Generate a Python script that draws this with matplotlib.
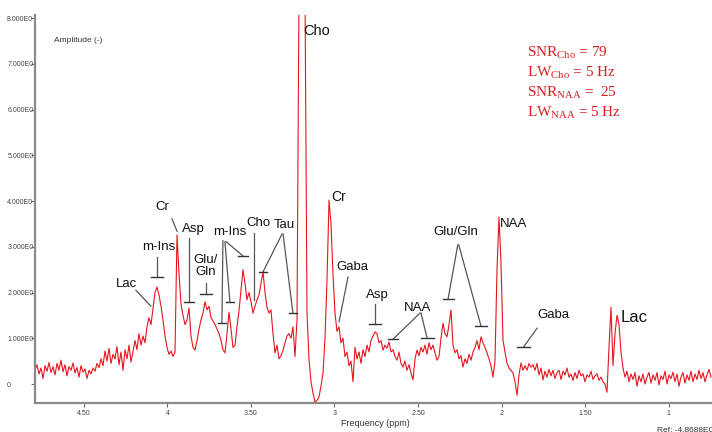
import numpy as np
import matplotlib
matplotlib.use('Agg')
import matplotlib.pyplot as plt

plt.rcParams['font.family'] = ['Liberation Sans', 'DejaVu Sans']
plt.rcParams['mathtext.fontset'] = 'custom'
plt.rcParams['mathtext.rm'] = 'Liberation Serif'
plt.rcParams['mathtext.it'] = 'Liberation Serif:italic'

amplitude = [
    0.30, 0.42, 0.22, 0.35, 0.12, 0.40, 0.28, 0.47, 0.25, 0.38,
    0.20, 0.45, 0.30, 0.52, 0.27, 0.42, 0.18, 0.38, 0.30, 0.46,
    0.24, 0.36, 0.15, 0.40, 0.26, 0.33, 0.12, 0.30, 0.22, 0.35,
    0.28, 0.45, 0.36, 0.55, 0.40, 0.72, 0.50, 0.78, 0.45, 0.65,
    0.55, 0.82, 0.42, 0.70, 0.30, 0.75, 0.55, 0.85, 0.48, 0.72,
    0.95, 0.75, 1.10, 0.85, 1.05, 0.90, 1.25, 1.45, 1.30, 1.65,
    2.00, 2.12, 1.95, 1.70, 1.40, 1.05, 0.80, 0.65, 0.72, 0.60,
    0.70, 3.26, 2.40, 1.75, 1.50, 1.30, 1.40, 1.66, 1.05, 0.80,
    0.74, 0.95, 1.20, 1.40, 1.55, 1.80, 1.62, 1.70, 1.45, 1.38,
    1.30, 1.20, 1.10, 0.95, 0.75, 0.68, 1.10, 1.57, 1.20, 0.80,
    0.85, 1.25, 1.60, 2.05, 2.50, 2.20, 1.84, 2.00, 1.80, 1.55,
    1.70, 1.84, 1.95, 2.20, 2.45, 2.00, 1.68, 1.55, 1.62, 1.10,
    0.68, 0.85, 0.55, 0.62, 0.74, 0.90, 1.05, 1.10, 1.00, 1.25,
    0.60, 1.40, 8.60, 9.50, 9.50, 8.60, 1.55, 0.55, 0.05, -0.20,
    -0.39, -0.36, -0.28, -0.05, 0.24, 1.00, 2.27, 4.02, 3.50, 2.40,
    1.55, 1.15, 1.25, 0.90, 1.00, 0.60, 0.70, 0.40, 0.50, 0.05,
    0.80, 0.55, 0.70, 0.45, 0.75, 0.60, 0.85, 0.70, 0.95, 1.05,
    1.14, 1.10, 0.90, 0.95, 0.74, 0.85, 0.78, 0.92, 0.70, 0.75,
    0.60, 0.52, 0.70, 0.45, 0.37, 0.50, 0.30, 0.42, 0.24, 0.09,
    0.55, 0.74, 0.62, 0.80, 0.70, 0.85, 0.65, 0.90, 0.75, 0.85,
    0.68, 0.52, 0.60, 1.00, 1.33, 1.10, 1.03, 1.30, 1.62, 0.85,
    0.68, 0.75, 0.55, 0.62, 0.37, 0.55, 0.45, 0.65, 0.52, 0.70,
    0.80, 0.95, 0.75, 1.03, 0.90, 0.80, 0.68, 0.55, 0.40, 0.15,
    0.50, 2.50, 3.65, 2.64, 0.96, 0.70, 0.46, 0.35, 0.30, 0.24,
    0.05, -0.25, 0.20, 0.46, 0.30, 0.40, 0.30, 0.45, 0.37, 0.42,
    0.30, 0.45, 0.20, 0.35, 0.09, 0.28, 0.15, 0.32, 0.18, 0.30,
    0.12, 0.25, 0.30, 0.10, 0.28, 0.20, 0.35, 0.15, 0.22, 0.08,
    0.25, 0.12, 0.30, 0.18, 0.22, 0.05, 0.20, 0.15, 0.28, 0.10,
    0.18, 0.22, 0.08, 0.15, 0.05, 0.00, -0.18, 0.80, 1.68, 0.40,
    1.10, 1.50, 1.30, 0.70, 0.35, 0.15, 0.28, 0.05, 0.22, 0.10,
    0.25, -0.05, 0.18, 0.05, 0.22, 0.00, 0.15, 0.25, 0.02, 0.20,
    0.08, 0.25, -0.02, 0.18, 0.10, 0.28, 0.00, 0.20, 0.12, 0.26,
    0.05, 0.22, -0.05, 0.15, 0.25, 0.02, 0.20, 0.08, 0.28, 0.05,
    0.22, 0.10, 0.30, 0.12, 0.25, 0.05, 0.20, 0.32, 0.15,
]
ppm_first, ppm_last = 4.793, 0.746
ppm = np.linspace(ppm_first, ppm_last, len(amplitude))

x_ticks = [4.5, 4, 3.5, 3, 2.5, 2, 1.5, 1]
x_ticklabels = ['4.50', '4', '3.50', '3', '2.50', '2', '1.50', '1']
y_ticks = [0, 1, 2, 3, 4, 5, 6, 7, 8]
y_ticklabels = ['0'] + ['%d.000E0' % v for v in y_ticks[1:]]

# metabolite labels: text, ppm, amplitude, font size
labels = [
    ('Lac', 4.243, 2.19, 9.5),
    ('m-Ins', 4.051, 2.99, 9.5),
    ('Cr', 4.033, 3.87, 9.5),
    ('Asp', 3.847, 3.39, 9.5),
    ('Glu/\nGln', 3.772, 2.58, 9.5),
    ('m-Ins', 3.626, 3.32, 9.5),
    ('Cho', 3.458, 3.52, 9.5),
    ('Tau', 3.302, 3.48, 9.5),
    ('Cho', 3.105, 7.72, 10.5),
    ('Cr', 2.973, 4.09, 10),
    ('Gaba', 2.895, 2.56, 9.5),
    ('Asp', 2.746, 1.95, 9.5),
    ('NAA', 2.500, 1.66, 9.5),
    ('Glu/Gln', 2.272, 3.32, 9.5),
    ('NAA', 1.925, 3.50, 9.5),
    ('Gaba', 1.692, 1.51, 9.5),
    ('Lac', 1.207, 1.46, 12),
]

# leader lines: start, end, half width of end bar (None = no bar)
leaders = [
    (4.189, 2.05, 4.099, 1.70, None),
    (4.063, 2.78, 4.063, 2.34, 0.036),
    (3.973, 3.61, 3.943, 3.34, None),
    (3.871, 3.19, 3.871, 1.79, 0.027),
    (3.769, 2.21, 3.769, 1.97, 0.036),
    (3.668, 3.13, 3.674, 1.33, 0.024),
    (3.656, 3.11, 3.626, 1.79, 0.024),
    (3.648, 3.11, 3.548, 2.80, 0.030),
    (3.482, 3.30, 3.482, 1.84, None),
    (3.314, 3.28, 3.428, 2.45, 0.024),
    (3.308, 3.28, 3.249, 1.55, 0.024),
    (2.919, 2.34, 2.973, 1.36, None),
    (2.757, 1.75, 2.757, 1.31, 0.036),
    (2.488, 1.55, 2.650, 0.98, 0.030),
    (2.482, 1.55, 2.446, 1.01, 0.039),
    (2.262, 3.04, 2.320, 1.86, 0.033),
    (2.256, 3.04, 2.123, 1.27, 0.036),
    (1.787, 1.22, 1.868, 0.81, 0.039),
]

quality = [
    r'$\mathrm{SNR}_{\mathrm{Cho}}$ = 79',
    r'$\mathrm{LW}_{\mathrm{Cho}}$ = 5 Hz',
    r'$\mathrm{SNR}_{\mathrm{NAA}}$ =  25',
    r'$\mathrm{LW}_{\mathrm{NAA}}$ = 5 Hz',
]

W, H = 712, 432
fig = plt.figure(figsize=(W / 100, H / 100), dpi=100)
ax = fig.add_axes([35 / W, 29 / H, 677 / W, 388 / H])

ax.plot(ppm, amplitude, color='#e8141e', lw=0.8)
ax.set_xlim(4.793, 0.740)
ax.set_ylim(-0.415, 8.066)

for s in ['top', 'right']:
    ax.spines[s].set_visible(False)
for s in ['left', 'bottom']:
    ax.spines[s].set_color('#8a8a8a')
    ax.spines[s].set_linewidth(1.6)

ax.set_xticks(x_ticks)
ax.set_xticklabels(x_ticklabels)
ax.set_yticks(y_ticks)
ax.set_yticklabels(y_ticklabels)
ax.tick_params(axis='x', length=3, width=0.8, color='#666666', labelsize=5, labelcolor='#444444', pad=2)
ax.tick_params(axis='y', length=3, width=0.8, color='#666666', labelsize=5, labelcolor='#444444', pad=17)
for t in ax.get_yticklabels():
    t.set_horizontalalignment('left')

for txt, x, y, fs in labels:
    ax.text(x, y, txt, ha='center', va='center', fontsize=fs, color='#111111', linespacing=1.1)

for x0, y0, x1, y1, hw in leaders:
    ax.plot([x0, x1], [y0, y1], color='#555555', lw=0.9)
    if hw:
        ax.plot([x1 + hw, x1 - hw], [y1, y1], color='#333333', lw=1.0)

for i, line in enumerate(quality):
    fig.text(527 / W, 1 - (53 + i * 20) / H, line, ha='left', va='center',
             fontsize=11, color='#d42020', family='Liberation Serif')

fig.text(54 / W, 1 - 41 / H, 'Amplitude (-)', fontsize=6, color='#333333', va='center')
fig.text(375 / W, 1 - 424 / H, 'Frequency (ppm)', fontsize=6.5, color='#333333', ha='center', va='center')
fig.text(657 / W, 1 - 430 / H, 'Ref: -4.8688E0', fontsize=6, color='#333333', va='center')

fig.savefig('out.png', dpi=100)
